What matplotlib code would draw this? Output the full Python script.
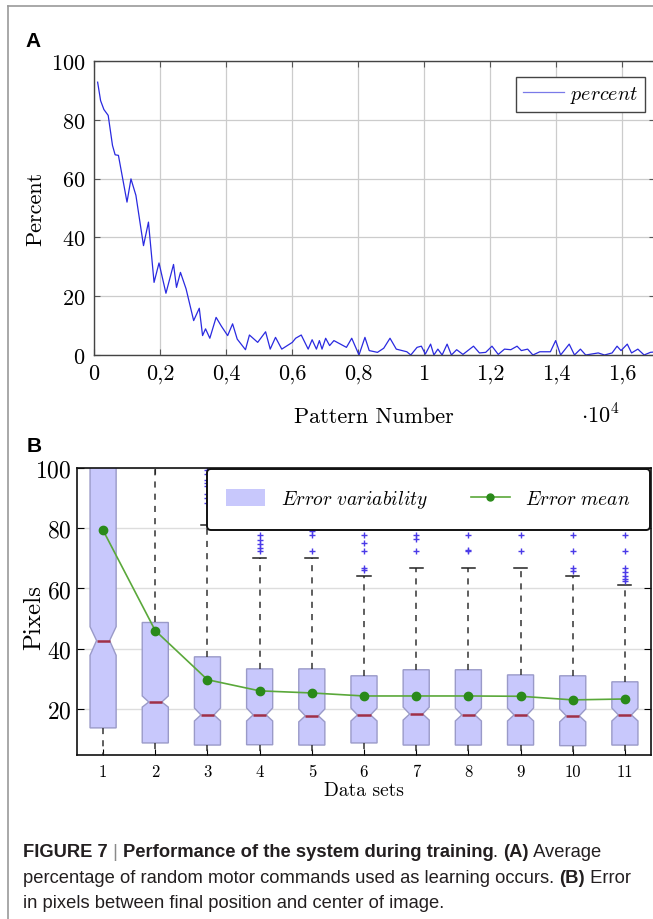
import numpy as np
import matplotlib
matplotlib.use("Agg")
import matplotlib.pyplot as plt
from matplotlib.patches import Patch
from matplotlib.lines import Line2D

plt.rcParams['font.family'] = ['cmr10', 'DejaVu Serif']
plt.rcParams['mathtext.fontset'] = 'cm'
plt.rcParams['axes.formatter.use_mathtext'] = True

# panel A: percent of random motor commands vs pattern number (x in units of 10^4)
pattern_k = [0.011, 0.02, 0.03, 0.043, 0.056, 0.064, 0.074, 0.100, 0.112, 0.127,
             0.150, 0.165, 0.182, 0.197, 0.218, 0.241, 0.250, 0.262, 0.279, 0.302,
             0.319, 0.329, 0.338, 0.351, 0.370, 0.386, 0.405, 0.420, 0.434, 0.459,
             0.471, 0.496, 0.520, 0.534, 0.550, 0.569, 0.601, 0.611, 0.628, 0.649,
             0.661, 0.674, 0.683, 0.691, 0.702, 0.714, 0.727, 0.765, 0.781, 0.803,
             0.821, 0.834, 0.859, 0.878, 0.897, 0.916, 0.948, 0.960, 0.979, 0.992,
             1.004, 1.020, 1.030, 1.042, 1.055, 1.070, 1.083, 1.099, 1.118, 1.150,
             1.168, 1.187, 1.206, 1.225, 1.244, 1.263, 1.282, 1.295, 1.314, 1.330,
             1.351, 1.383, 1.399, 1.414, 1.440, 1.456, 1.474, 1.490, 1.528, 1.547,
             1.570, 1.585, 1.597, 1.616, 1.629, 1.648, 1.667, 1.686, 1.705]
percent = [92.8, 86.5, 83.5, 81.5, 71.3, 68.1, 67.9, 52.0, 59.9, 54.3,
           37.2, 45.2, 24.7, 31.3, 21.0, 30.8, 23.0, 28.1, 22.5, 11.7,
           15.9, 6.6, 8.9, 5.7, 12.8, 9.8, 6.6, 10.6, 5.4, 1.8,
           6.8, 4.3, 7.9, 2.0, 6.0, 2.0, 4.3, 5.7, 6.8, 2.0,
           5.2, 2.0, 4.9, 2.0, 5.7, 3.2, 4.9, 2.6, 5.7, 0.0,
           6.0, 1.5, 0.9, 2.3, 5.7, 2.0, 1.1, 0.0, 2.6, 3.0,
           0.3, 3.7, 0.0, 2.0, 0.0, 3.7, 0.0, 1.8, 0.2, 3.0,
           0.7, 0.9, 3.0, 0.2, 2.0, 1.8, 3.0, 1.5, 2.0, 0.0,
           1.1, 1.1, 4.9, 0.0, 3.7, 0.0, 2.0, 0.0, 0.7, 0.0,
           0.7, 3.0, 1.5, 3.7, 0.7, 2.0, 0.0, 0.9, 1.1]
xticks_a = [0, 0.2, 0.4, 0.6, 0.8, 1.0, 1.2, 1.4, 1.6]
xticklabels_a = ['0', '0,2', '0,4', '0,6', '0,8', '1', '1,2', '1,4', '1,6']
yticks_a = [0, 20, 40, 60, 80, 100]

# panel B: error in pixels per data set
sets = [1, 2, 3, 4, 5, 6, 7, 8, 9, 10, 11]
q1 = [13.7, 8.7, 8.0, 8.1, 8.0, 8.7, 8.0, 8.0, 8.0, 7.8, 8.0]
q3 = [110, 48.7, 37.3, 33.3, 33.3, 31.0, 33.0, 33.0, 31.3, 31.0, 29.0]
medians = [42.7, 22.3, 18.0, 18.0, 17.7, 18.0, 18.3, 18.0, 18.0, 17.7, 18.0]
notch_lo = [37.8, 20.6, 16.0, 16.0, 15.7, 16.0, 16.3, 16.0, 16.0, 15.7, 16.0]
notch_hi = [47.3, 24.3, 20.3, 20.3, 20.0, 20.3, 20.6, 20.3, 20.3, 20.0, 20.3]
whis_lo = [0, 0, 0, 0, 0, 0, 0, 0, 0, 0, 0]
whis_hi = [130, 130, 81, 70, 70, 64.3, 66.7, 66.7, 66.7, 64.3, 61]
fliers = [[], [],
          [88.5, 90, 91.5, 94, 95, 96, 98, 99.5],
          [72.3, 73.5, 74.7, 76, 77.7],
          [72.3, 77.7, 79],
          [66, 66.7, 72.3, 75, 77.7],
          [72.3, 76.3, 77.7],
          [72.3, 72.8, 77.7],
          [72.3, 77.7],
          [65.7, 66.7, 72.3, 77.7],
          [62.5, 63, 64.2, 65.5, 66.7, 72.3, 77.7]]
err_mean = [79.3, 46.0, 29.7, 26.0, 25.3, 24.3, 24.3, 24.3, 24.2, 23.0, 23.3]

W, H = 653, 920
fig = plt.figure(figsize=(W / 100, H / 100), dpi=100)


def fx(px):
    return px / W


def fy(py):
    return 1 - py / H


# outer frame of the figure panel
fig.add_artist(Line2D([fx(8), fx(8)], [fy(7), 0], color='#9a9a9a', lw=1.2))
fig.add_artist(Line2D([fx(8), 1], [fy(7), fy(7)], color='#9a9a9a', lw=1.2))

# ---- panel A ----
axA = fig.add_axes([fx(94), fy(356), (655 - 94) / W, (356 - 62) / H])
axA.plot(pattern_k, percent, color='#2a2ae0', lw=0.9, label=r'$percent$')
axA.set_xlim(0, 1.7)
axA.set_ylim(0, 100)
axA.set_xticks(xticks_a)
axA.set_xticklabels(xticklabels_a)
axA.set_yticks(yticks_a)
axA.grid(True, color='#cccccc', lw=0.9)
axA.set_axisbelow(True)
axA.tick_params(direction='in', length=4, labelsize=16, color='#555555',
                top=True, right=True, pad=6)
for s in axA.spines.values():
    s.set_color('#444444')
    s.set_linewidth(1.0)
axA.set_ylabel('Percent', fontsize=16)
axA.yaxis.set_label_coords(-0.087, 0.5)
leg = axA.legend(loc='upper right', bbox_to_anchor=(0.982, 0.946), fancybox=False,
                 edgecolor='#444444', fontsize=14.5, handlelength=2.0,
                 handletextpad=0.3, borderpad=0.35, borderaxespad=0, framealpha=1)
leg.get_frame().set_linewidth(1.0)
leg.get_lines()[0].set_color('#7a7ae8')
fig.text(fx(374), fy(417), 'Pattern Number', fontsize=16, ha='center', va='center')
fig.text(fx(600), fy(415), r'$\cdot 10^4$', fontsize=16, ha='center', va='center')
fig.text(fx(25), fy(47), 'A', fontsize=15, fontweight='bold',
         family='Liberation Sans', ha='left', va='baseline')

# ---- panel B ----
axB = fig.add_axes([fx(77), fy(756), (651 - 77) / W, (756 - 469) / H])
stats = []
for i in range(len(sets)):
    stats.append(dict(med=medians[i], q1=q1[i], q3=q3[i], whislo=whis_lo[i],
                      whishi=whis_hi[i], cilo=notch_lo[i], cihi=notch_hi[i],
                      fliers=fliers[i], label=str(sets[i])))
box_face = '#c8c8fc'
axB.bxp(stats, positions=sets, widths=0.5, shownotches=True, patch_artist=True,
        boxprops=dict(facecolor=box_face, edgecolor='#9a9ac8', lw=1.0),
        medianprops=dict(color='#a03048', lw=1.8),
        whiskerprops=dict(color='#333333', lw=1.1, linestyle=(0, (4, 4))),
        capprops=dict(color='#222222', lw=1.1),
        flierprops=dict(marker='+', markeredgecolor='#4a3ae8', markersize=5,
                        markeredgewidth=1.0, linestyle='none'))
axB.plot(sets, err_mean, color='#5aa83a', lw=1.2, marker='o', markersize=6,
         markerfacecolor='#2a8a1a', markeredgecolor='#2a8a1a')
axB.set_xlim(0.5, 11.5)
axB.set_ylim(4.7, 100)
axB.set_yticks([20, 40, 60, 80, 100])
axB.yaxis.grid(True, color='#dddddd', lw=1.0)
axB.set_axisbelow(True)
axB.tick_params(axis='y', direction='in', length=5, labelsize=17, right=True, pad=4)
axB.tick_params(axis='x', direction='in', length=4, labelsize=12, top=True, pad=6)
for s in axB.spines.values():
    s.set_color('#111111')
    s.set_linewidth(1.2)
axB.set_ylabel('Pixels', fontsize=18)
axB.yaxis.set_label_coords(-0.056, 0.484)
axB.set_xlabel('Data sets', fontsize=14, labelpad=2)
handles = [Patch(facecolor=box_face, edgecolor='none'),
           Line2D([], [], color='#5aa83a', lw=1.2, marker='o', markersize=5,
                  markerfacecolor='#2a8a1a', markeredgecolor='#2a8a1a')]
legB = axB.legend(handles, [r'$Error\ variability$', r'$Error\ mean$'], ncol=2,
                  loc='upper right', bbox_to_anchor=(1.0, 1.0), fontsize=14,
                  fancybox=True, edgecolor='#111111', framealpha=1,
                  borderpad=1.0, borderaxespad=0.05, handlelength=2.0,
                  handleheight=1.0, columnspacing=2.2, handletextpad=0.8)
legB.get_frame().set_linewidth(1.4)
fig.text(fx(27), fy(452), 'B', fontsize=15, fontweight='bold',
         family='Liberation Sans', ha='left', va='baseline')

# ---- caption ----
cap_color = '#231f20'
caption = [
    (857, [('FIGURE 7', 'bold', cap_color), (' | ', 'normal', '#8a8a8a'),
           ('Performance of the system during training', 'bold', cap_color),
           ('. ', 'normal', cap_color), ('(A)', 'bold', cap_color),
           (' Average', 'normal', cap_color)]),
    (883, [('percentage of random motor commands used as learning occurs. ', 'normal', cap_color),
           ('(B)', 'bold', cap_color), (' Error', 'normal', cap_color)]),
    (908, [('in pixels between final position and center of image.', 'normal', cap_color)]),
]
renderer = fig.canvas.get_renderer()
for base_y, pieces in caption:
    x = 23
    for txt, weight, col in pieces:
        t = fig.text(fx(x), fy(base_y), txt, fontsize=13.2, fontweight=weight,
                     color=col, family='Liberation Sans', ha='left', va='baseline')
        bb = t.get_window_extent(renderer=renderer)
        x += bb.width

fig.savefig('out.png', dpi=100)
